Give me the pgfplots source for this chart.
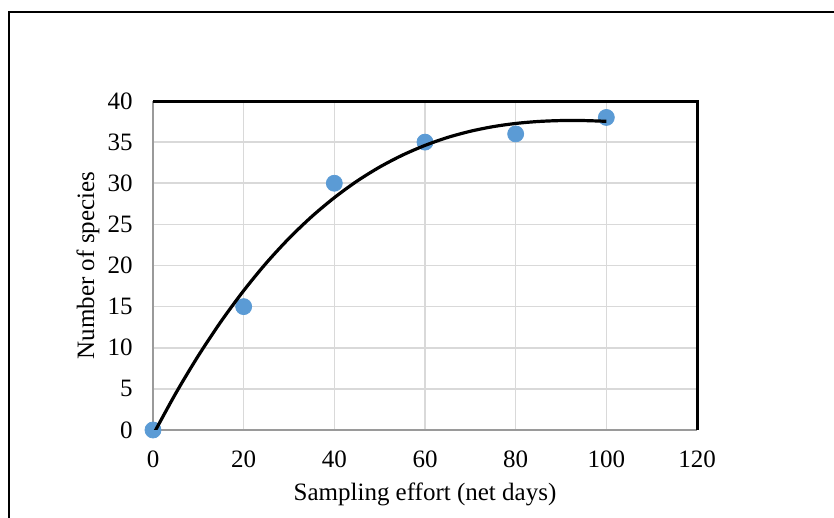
\documentclass[border=0pt]{standalone}
\usepackage{fontspec}
\setmainfont{Liberation Serif}
\usepackage{pgfplots}
\pgfplotsset{compat=1.18}
\definecolor{mblue}{HTML}{5B9BD5}
\definecolor{gridc}{HTML}{D9D9D9}
\definecolor{axgray}{HTML}{9A9A9A}
\begin{document}
\begin{tikzpicture}
\useasboundingbox (0,0) rectangle (417pt,259pt);
\begin{scope}
\clip (0,0) rectangle (417pt,259pt);
\draw[line width=0.8pt] (4.5pt,-10pt) -- (4.5pt,253pt) -- (430pt,253pt);
\end{scope}
\begin{axis}[
  at={(76.5pt,44pt)}, anchor=south west,
  scale only axis, width=272pt, height=164.5pt,
  xmin=0, xmax=120, ymin=0, ymax=40,
  xtick={0,20,...,120}, ytick={0,5,...,40},
  grid=major, major grid style={gridc, line width=0.8pt},
  major tick length=0pt,
  axis line style={draw=none},
  clip mode=individual,
  font=\fontsize{12.5}{15}\selectfont,
  /pgf/number format/assume math mode=true,
  yticklabel style={anchor=east, inner sep=0pt, xshift=-10pt},
  xticklabel style={anchor=north, inner sep=0pt, yshift=-10pt},
  xlabel={Sampling effort (net days)},
  ylabel={Number of species},
  every axis x label/.style={at={(axis description cs:0.5,-0.1945)}, anchor=center},
  every axis y label/.style={at={(axis description cs:-0.1195,0.5)}, anchor=center, rotate=90},
]
\draw[axgray, line width=1.2pt] (rel axis cs:0,1) -- (rel axis cs:0,0) -- (rel axis cs:1,0);
\addplot[only marks, mark=*, mark size=4pt, mblue, mark options={fill=mblue, draw=mblue}]
  coordinates {(0,0) (20,15) (40,30) (60,35) (80,36) (100,38)};
\addplot[black, line width=1.6pt, smooth]
  coordinates {(0,-0.60) (5,4.44) (10,9.03) (15,13.19) (20,16.94) (25,20.31) (30,23.30)
  (35,25.94) (40,28.25) (45,30.26) (50,31.97) (55,33.41) (60,34.60) (65,35.57)
  (70,36.32) (75,36.88) (80,37.27) (85,37.51) (90,37.62) (95,37.62) (100,37.53)};
\draw[black, line width=1.5pt] (rel axis cs:0,1) -- (rel axis cs:1,1) -- (rel axis cs:1,0);
\end{axis}
\end{tikzpicture}
\end{document}
